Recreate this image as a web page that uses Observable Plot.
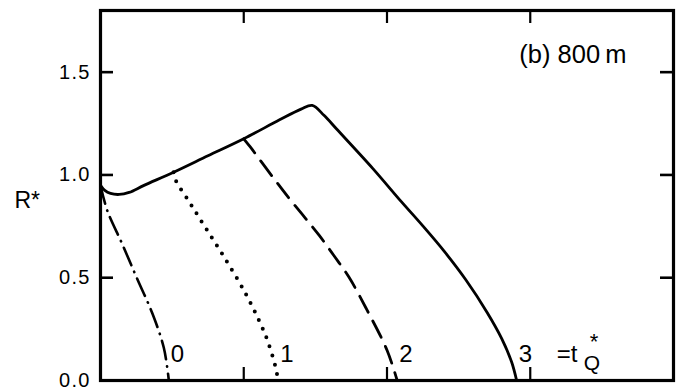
<!DOCTYPE html>
<html>
<head>
<meta charset="utf-8">
<script src="https://cdn.jsdelivr.net/npm/d3@7"></script>
<script src="https://cdn.jsdelivr.net/npm/@observablehq/plot@0.6"></script>
<style>
  html, body { margin: 0; padding: 0; background: #fff; }
  #chart svg { display: block; }
</style>
</head>
<body>
<div id="chart"></div>
<script>
// Envelope of R* (solid): dip, slow rise, peak, then collapse to zero
const envelopeT = [0, 0.03, 0.07, 0.13, 0.2, 0.3, 0.51, 0.75, 1.0, 1.25, 1.4, 1.478, 1.56, 1.65, 1.9, 2.1, 2.25, 2.4, 2.55, 2.7, 2.8, 2.87, 2.905];
const envelopeR = [0.95, 0.925, 0.91, 0.905, 0.915, 0.948, 1.013, 1.093, 1.176, 1.268, 1.32, 1.338, 1.29, 1.222, 1.032, 0.87, 0.752, 0.628, 0.49, 0.33, 0.205, 0.09, 0];

// Decay curves after the heat source is switched off at t_Q* = 0, 1, 2
const q0T = [0, 0.047, 0.151, 0.256, 0.361, 0.442, 0.477];
const q0R = [0.95, 0.827, 0.665, 0.495, 0.328, 0.159, 0];
const q1T = [0.51, 0.524, 0.628, 0.738, 0.861, 1.005, 1.101, 1.163, 1.222, 1.24];
const q1R = [1.013, 0.976, 0.86, 0.738, 0.603, 0.433, 0.3, 0.2, 0.065, 0];
const q2T = [1.0, 1.047, 1.098, 1.212, 1.319, 1.424, 1.527, 1.629, 1.734, 1.862, 2.001, 2.071];
const q2R = [1.176, 1.135, 1.087, 0.981, 0.884, 0.795, 0.706, 0.608, 0.503, 0.341, 0.146, 0];

const curveLabels = ["0", "1", "2", "3"];
const xTicks = [1, 2, 3];
const yTicks = [0.5, 1.0, 1.5];
const yTickLabels = [0, 0.5, 1.0, 1.5];
const panelTitle = "(b) 800\u2009m";
const yTitle = "R*";

const pts = (T, R) => T.map((t, i) => ({t, r: R[i]}));
const envelope = pts(envelopeT, envelopeR);
const q0 = pts(q0T, q0R);
const q1 = pts(q1T, q1R);
const q2 = pts(q2T, q2R);

// each label sits just right of where its curve reaches R* = 0
const ends = [q0, q1, q2, envelope].map((c, i) => ({t: c[c.length - 1].t, label: curveLabels[i]}));
const last = [ends[3]];

const W = 682, H = 390;
const mL = 100, mR = 9, mT = 10, mB = 10;
const pw = W - mL - mR, ph = H - mT - mB;
const tick = 13;
const font = "Liberation Sans, Arial, Helvetica, sans-serif";

const chart = Plot.plot({
  width: W,
  height: H,
  marginLeft: mL,
  marginRight: mR,
  marginTop: mT,
  marginBottom: mB,
  style: {fontFamily: font, fontSize: "20px", color: "#000", background: "#fff"},
  x: {domain: [0, 4], axis: null},
  y: {domain: [0, 1.8], axis: null},
  marks: [
    Plot.line(envelope, {x: "t", y: "r", curve: "catmull-rom", stroke: "#000", strokeWidth: 2.8}),
    Plot.line(q0, {x: "t", y: "r", curve: "catmull-rom", stroke: "#000", strokeWidth: 2.6,
      strokeDasharray: "19,7,0.5,7", strokeLinecap: "round"}),
    Plot.line(q1, {x: "t", y: "r", curve: "catmull-rom", stroke: "#000", strokeWidth: 4,
      strokeDasharray: "0,9.5", strokeLinecap: "round"}),
    Plot.line(q2, {x: "t", y: "r", curve: "catmull-rom", stroke: "#000", strokeWidth: 2.8,
      strokeDasharray: "18,10"}),
    // inward ticks on all four sides
    Plot.ruleX(xTicks, {insetBottom: ph - tick, stroke: "#000", strokeWidth: 2.2}),
    Plot.ruleX(xTicks, {insetTop: ph - tick, stroke: "#000", strokeWidth: 2.2}),
    Plot.ruleY(yTicks, {insetRight: pw - tick, stroke: "#000", strokeWidth: 2.6}),
    Plot.ruleY(yTicks, {insetLeft: pw - tick, stroke: "#000", strokeWidth: 2.6}),
    Plot.frame({stroke: "#000", strokeWidth: 3.2}),
    Plot.axisY(yTickLabels, {tickSize: 0, tickPadding: 10, tickFormat: d3.format(".1f"), label: null, fontSize: 20}),
    Plot.text([yTitle], {text: d => d, frameAnchor: "left", textAnchor: "start", dx: -86, dy: 5, fontSize: 23}),
    Plot.text([panelTitle], {text: d => d, frameAnchor: "top-right", textAnchor: "end", lineAnchor: "middle", dx: -47, dy: 44, fontSize: 25.5}),
    Plot.text(ends, {x: "t", text: "label", frameAnchor: "bottom", textAnchor: "start", lineAnchor: "middle", dx: 2, dy: -26, fontSize: 24}),
    Plot.text(last, {x: "t", text: () => "=t", frameAnchor: "bottom", textAnchor: "start", lineAnchor: "middle", dx: 40, dy: -26, fontSize: 24}),
    Plot.text(last, {x: "t", text: () => "Q", frameAnchor: "bottom", textAnchor: "start", lineAnchor: "middle", dx: 67, dy: -17, fontSize: 21}),
    Plot.text(last, {x: "t", text: () => "*", frameAnchor: "bottom", textAnchor: "start", lineAnchor: "middle", dx: 73, dy: -39, fontSize: 22})
  ]
});

d3.select(chart).selectAll('[aria-label="y-axis tick label"] text').style("letter-spacing", "1.2px");
document.getElementById("chart").appendChild(chart);
</script>
</body>
</html>
